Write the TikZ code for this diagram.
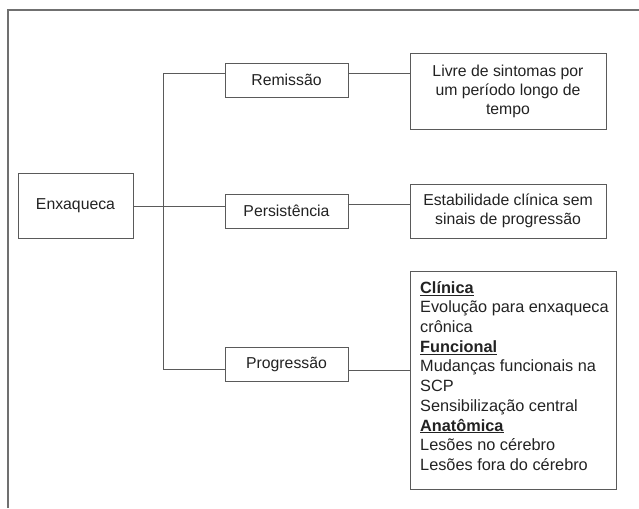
\documentclass[tikz,border=0pt]{standalone}
\usepackage{fontspec}
\setmainfont{Liberation Sans}
\definecolor{linegray}{HTML}{5A5A5A}
\definecolor{framegray}{HTML}{707070}
\definecolor{textgray}{HTML}{222222}
\begin{document}
\begin{tikzpicture}[x=1pt,y=-1pt,
  every node/.style={font=\fontsize{15.8}{19}\selectfont, text=textgray},
  box/.style={draw=linegray, line width=0.9pt, inner sep=0pt, align=center},
  conn/.style={draw=linegray, line width=0.9pt},
  frame/.style={draw=framegray, line width=1.8pt}]
\useasboundingbox (0,0) rectangle (639,508);
% frame
\coordinate (ftl) at (8,10);
\coordinate (ftr) at (639,10);
\coordinate (fbl) at (8,508);
\draw[frame] (fbl) -- (ftl) -- (ftr);
% nodes
\node[box, minimum width=115pt, minimum height=65pt] (enx) at (75.5,205.5) {Enxaqueca};
\node[box, minimum width=123pt, minimum height=34pt] (rem) at (286.5,80) {Remissão};
\node[box, minimum width=123pt, minimum height=34pt] (pers) at (286.5,211) {Persistência};
\node[box, minimum width=123pt, minimum height=34pt] (prog) at (286.5,364) {Progressão};
\node[box, minimum width=196pt, minimum height=76pt] (livre) at (508,91) {Livre de sintomas por\\um período longo de\\tempo};
\node[box, minimum width=196pt, minimum height=54pt] (estab) at (508,211) {Estabilidade clínica sem\\sinais de progressão};
\node[box, minimum width=206pt, minimum height=218pt] (big) at (513,380) {};
\node[anchor=north west, inner sep=0pt, align=left, font=\fontsize{16.3}{19.7}\selectfont] (bigtext) at (420,281) {%
\underline{\textbf{Clínica}}\\
Evolução para enxaqueca\\
crônica\\
\underline{\textbf{Funcional}}\\
Mudanças funcionais na\\
SCP\\
Sensibilização central\\
\underline{\textbf{Anatômica}}\\
Lesões no cérebro\\
Lesões fora do cérebro};
% junction coordinates
\coordinate (jt) at (163,73);
\coordinate (jb) at (163,369);
\coordinate (jm) at (163,206);
\coordinate (jp) at (163,204);
\coordinate (jg) at (163,370);
% connectors
\draw[conn] (rem.west |- jt) -- (jt) -- (jb) -- (prog.west |- jb);
\draw[conn] (enx.east |- jm) -- (pers.west |- jm);
\draw[conn] (rem.east |- jt) -- (livre.west |- jt);
\draw[conn] (pers.east |- jp) -- (estab.west |- jp);
\draw[conn] (prog.east |- jg) -- (big.west |- jg);
\end{tikzpicture}
\end{document}
